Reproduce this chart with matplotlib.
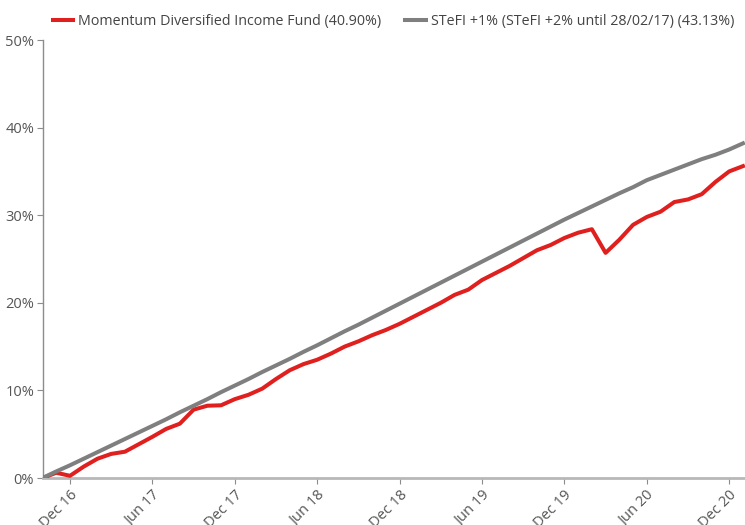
import numpy as np
import matplotlib.pyplot as plt

# monthly points, Oct 2016 .. Jan 2021
months = list(range(52))
fund = [0.0, 0.6, 0.25, 1.3, 2.2, 2.75, 3.0, 3.85, 4.7, 5.6,
        6.2, 7.8, 8.25, 8.3, 9.0, 9.5, 10.2, 11.3, 12.3, 13.0,
        13.5, 14.2, 15.0, 15.6, 16.3, 16.9, 17.6, 18.4, 19.2, 20.0,
        20.9, 21.5, 22.6, 23.4, 24.2, 25.1, 26.0, 26.6, 27.4, 28.0,
        28.4, 25.7, 27.2, 28.9, 29.8, 30.4, 31.5, 31.8, 32.4, 33.8,
        35.0, 35.6]
stefi = [0.0, 0.75, 1.45, 2.2, 2.95, 3.7, 4.45, 5.2, 5.95, 6.7,
         7.5, 8.25, 9.0, 9.8, 10.55, 11.3, 12.1, 12.85, 13.6, 14.4,
         15.15, 15.95, 16.75, 17.5, 18.3, 19.1, 19.9, 20.7, 21.5, 22.3,
         23.1, 23.9, 24.7, 25.5, 26.3, 27.1, 27.9, 28.7, 29.5, 30.25,
         31.0, 31.75, 32.5, 33.2, 34.0, 34.6, 35.2, 35.8, 36.4, 36.9,
         37.5, 38.2]
tick_pos = [2, 8, 14, 20, 26, 32, 38, 44, 50]
tick_labels = ["Dec 16", "Jun 17", "Dec 17", "Jun 18", "Dec 18",
               "Jun 19", "Dec 19", "Jun 20", "Dec 20"]
names = ["Momentum Diversified Income Fund (40.90%)",
         "STeFI +1% (STeFI +2% until 28/02/17) (43.13%)"]

plt.rcParams['font.family'] = ['Open Sans', 'DejaVu Sans']

fig = plt.figure(figsize=(7.45, 5.25), dpi=100)
ax = fig.add_axes([42.5 / 745, 47 / 525, 702.5 / 745, 438 / 525])

ax.plot(months, fund, color="#e0201f", lw=2.9, label=names[0], zorder=3)
ax.plot(months, stefi, color="#7f7f7f", lw=2.9, label=names[1], zorder=4)

ax.set_xlim(0, 51.15)
ax.set_ylim(0, 50)
ax.set_yticks(range(0, 51, 10))
ax.set_yticklabels([f"{v}%" for v in range(0, 51, 10)])
ax.set_xticks(tick_pos)
ax.set_xticklabels(tick_labels, rotation=45, ha="right", rotation_mode="anchor")

for s in ["top", "right"]:
    ax.spines[s].set_visible(False)
ax.spines["left"].set_color("#8c8c8c")
ax.spines["left"].set_linewidth(1.0)
ax.spines["bottom"].set_color("#b8b8b8")
ax.spines["bottom"].set_linewidth(2.0)
ax.tick_params(axis="y", length=4, color="#8c8c8c", labelsize=10.5, labelcolor="#555555", pad=2)
ax.tick_params(axis="x", length=4, color="#8c8c8c", labelsize=10.5, labelcolor="#555555", pad=3)

fig.legend(loc="center left", bbox_to_anchor=(47 / 745, 1 - 22 / 525), ncol=2,
           frameon=False, fontsize=10.3, handlelength=1.45, handletextpad=0.35,
           columnspacing=1.65, borderaxespad=0, labelcolor="#444444")

fig.savefig("out.png", dpi=100)
